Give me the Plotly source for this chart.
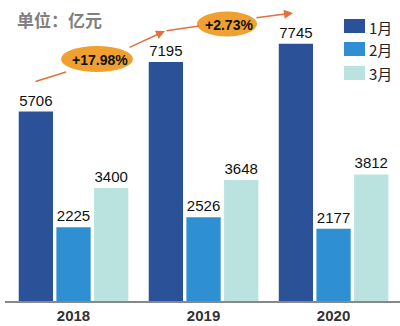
import plotly.graph_objects as go

years = ["2018", "2019", "2020"]
months = ["1月", "2月", "3月"]
jan = [5706, 7195, 7745]
feb = [2225, 2526, 2177]
mar = [3400, 3648, 3812]
growth_labels = ["+17.98%", "+2.73%"]
unit_label = "单位：亿元"

colors = ["#2B5299", "#2E8FD3", "#BAE3E0"]
series = [jan, feb, mar]

W, H = 400, 326
L, R, T, B = 5, 0, 0, 25
pw, ph = W - L - R, H - T - B


def px(x):
    return (x - L) / pw


def py(y):
    return (H - B - y) / ph


fig = go.Figure()
for name, vals, c in zip(months, series, colors):
    fig.add_trace(go.Bar(
        x=years, y=vals, name=name, marker=dict(color=c, line=dict(width=0)),
        text=[str(v) for v in vals], textposition="outside",
        textfont=dict(family="Liberation Sans, Arial", size=15, color="#111"),
        cliponaxis=False, showlegend=False,
    ))

shapes = []
annotations = []

# custom legend
leg_y = [26, 49, 73]
for name, c, yy in zip(months, colors, leg_y):
    shapes.append(dict(type="rect", xref="paper", yref="paper",
                       x0=px(344), x1=px(365), y0=py(yy + 7), y1=py(yy - 7),
                       fillcolor=c, line=dict(width=0)))
    annotations.append(dict(xref="paper", yref="paper", x=px(367), y=py(yy + 1),
                            xanchor="left", yanchor="middle", text=name, showarrow=False,
                            font=dict(family="Noto Sans CJK SC", size=15, color="#222")))

# unit label
annotations.append(dict(xref="paper", yref="paper", x=px(15), y=py(20),
                        xanchor="left", yanchor="middle", text=unit_label, showarrow=False,
                        font=dict(family="Noto Sans CJK SC", size=17, color="#808080", weight="bold")))

# arrows (segments, hidden behind ellipses)
arrow_col = "#E2703F"
segs = [((34, 82), (66, 72), 0), ((128, 48), (165, 31), 2),
        ((165, 31), (199, 26), 0), ((255, 18), (293, 13), 2)]
for (x0, y0), (x1, y1), head in segs:
    annotations.append(dict(xref="paper", yref="paper", x=px(x1), y=py(y1),
                            ax=x0 - x1, ay=y0 - y1, axref="pixel", ayref="pixel",
                            text="", showarrow=True, arrowhead=head, arrowsize=1.2,
                            arrowwidth=1.5, arrowcolor=arrow_col))

# ellipses with growth labels
ells = [(97, 59, 72, 26), (227, 24, 60, 25)]
text_pos = [(100, 60), (229, 25)]
for (cx, cy, ew, eh), (tx, ty), lab in zip(ells, text_pos, growth_labels):
    shapes.append(dict(type="circle", xref="paper", yref="paper",
                       x0=px(cx - ew / 2), x1=px(cx + ew / 2),
                       y0=py(cy + eh / 2), y1=py(cy - eh / 2),
                       fillcolor="#F0A030", line=dict(width=0), layer="above"))
    annotations.append(dict(xref="paper", yref="paper", x=px(tx), y=py(ty),
                            xanchor="center", yanchor="middle", text=lab, showarrow=False,
                            font=dict(family="Liberation Sans, Arial",
                                      size=14, color="#111", weight="bold")))

fig.update_layout(
    width=W, height=H, margin=dict(l=L, r=R, t=T, b=B),
    paper_bgcolor="white", plot_bgcolor="white",
    barmode="group", bargap=0.131, bargroupgap=0.09,
    xaxis=dict(range=[-0.527, 2.511], showgrid=False, showline=True, linecolor="#888",
               linewidth=1.5, ticks="", zeroline=False,
               tickfont=dict(family="Liberation Sans, Arial", size=15, color="#333", weight="bold")),
    yaxis=dict(range=[0, 9066], visible=False, showgrid=False),
    shapes=shapes, annotations=annotations, showlegend=False,
)

fig.write_html("out.html")
